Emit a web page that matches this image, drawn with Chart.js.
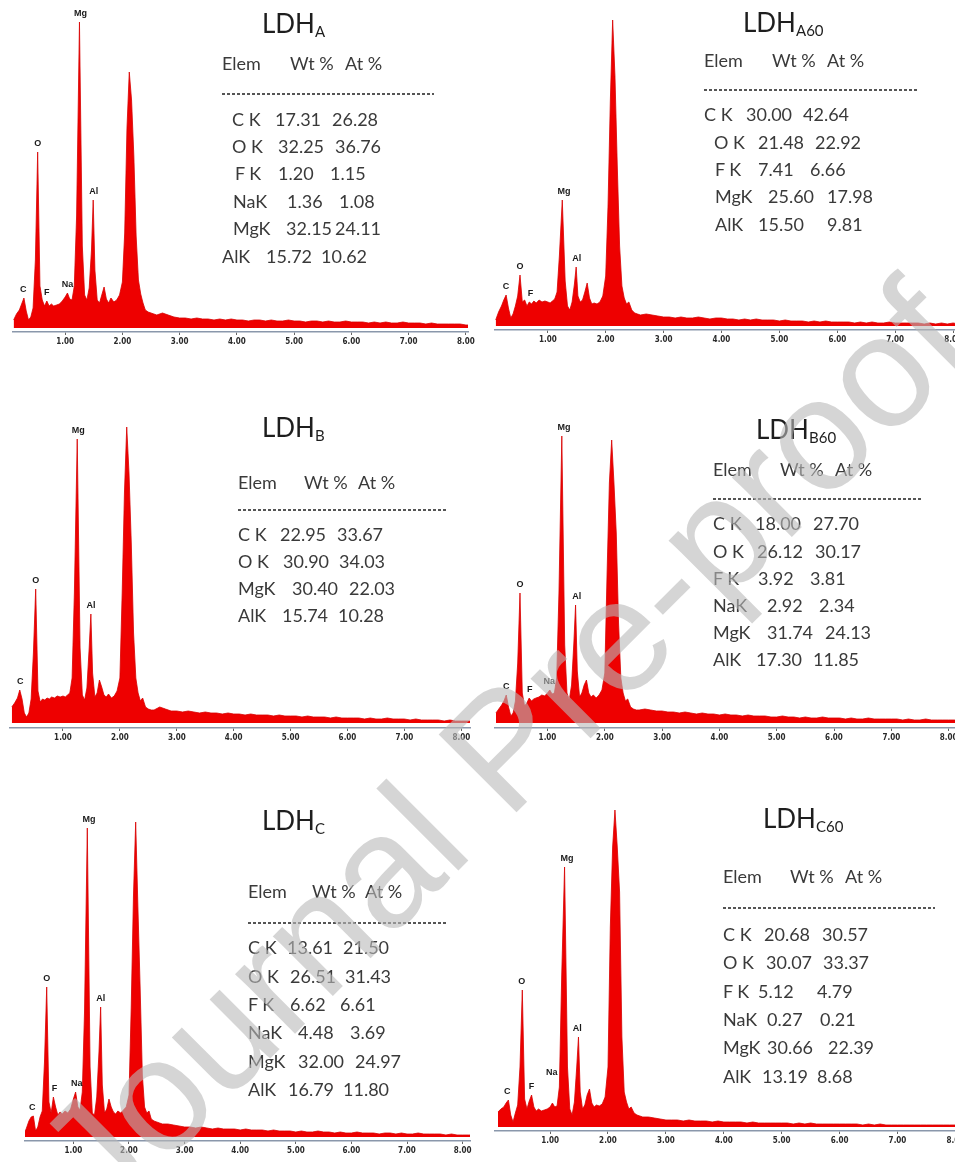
<!DOCTYPE html>
<html><head><meta charset="utf-8">
<script src="https://cdn.jsdelivr.net/npm/chart.js@4.4.1/dist/chart.umd.min.js"></script>
<style>
html,body{margin:0;padding:0;background:#fff;overflow:hidden;}
#page{position:relative;width:955px;height:1162px;overflow:hidden;background:#fff;}
canvas{position:absolute;}
.t{position:absolute;white-space:pre;font-family:Lato,'Open Sans',sans-serif;color:#3a3a3a;font-size:18px;line-height:18px;}
.ttl{position:absolute;white-space:pre;font-family:Lato,'Open Sans',sans-serif;color:#1e1e1e;font-size:26px;line-height:26px;}
.ttl span{font-size:15px;position:relative;top:4px;}
.dash{position:absolute;height:1.5px;background:repeating-linear-gradient(90deg,#555 0 3px,transparent 3px 5px);}
#wm{position:absolute;white-space:nowrap;font-family:'Liberation Sans',Arial,sans-serif;font-size:160px;line-height:1;color:rgba(185,185,185,0.6);transform:translate(-50%,-50%) rotate(-45deg);pointer-events:none;z-index:10;}
</style></head>
<body><div id="page"></div>
<script>
// Energy axis (keV), shared by all six spectra
const energyKeV = [0.10,0.15,0.20,0.24,0.28,0.32,0.36,0.40,0.44,0.48,
0.52,0.56,0.60,0.64,0.68,0.72,0.76,0.80,0.85,0.90,
0.95,1.00,1.04,1.08,1.12,1.16,1.20,1.25,1.30,1.34,
1.38,1.42,1.46,1.49,1.52,1.56,1.60,1.64,1.68,1.72,
1.76,1.80,1.85,1.90,1.95,2.00,2.04,2.08,2.12,2.16,
2.20,2.24,2.28,2.32,2.36,2.40,2.45,2.50,2.55,2.60,
2.70,2.80,2.90,3.00,
3.10,3.20,3.30,3.40,3.50,3.60,3.70,3.80,3.90,4.00,
4.10,4.20,4.30,4.40,4.50,4.60,4.70,4.80,4.90,5.00,
5.10,5.20,5.30,5.40,5.50,5.60,5.70,5.80,5.90,6.00,
6.10,6.20,6.30,6.40,6.50,6.60,6.70,6.80,6.90,7.00,
7.10,7.20,7.30,7.40,7.50,7.60,7.70,7.80,7.90,8.00,
8.10,8.20];

const tickValues = [1,2,3,4,5,6,7,8];

// Counts (arbitrary units)
const countsA = [8,14,18,24,30,17,8,11,20,68,
176,42,28,22,27,22,24,22,23,24,
27,31,35,29,28,42,112,306,82,33,
28,40,78,128,58,28,25,33,41,29,
25,30,26,28,33,46,95,200,256,228,
172,92,48,34,25,18,16,15,14,13,
15,13,11,10,
10,9,10,9,9,8,9,8,9,8, 8,7,8,8,7,8,7,7,8,7, 7,6,7,7,6,7,6,6,7,6, 6,6,5,6,5,6,5,5,6,5, 5,5,4,5,4,4,4,4,4,3, 3,3];

const countsA60 = [6,14,20,26,31,18,8,12,20,30,
51,24,26,20,24,22,25,23,26,24,
25,24,23,25,27,34,70,126,45,20,
16,24,42,59,30,24,26,34,43,28,
22,23,22,24,30,50,120,225,306,250,
160,80,40,28,22,24,16,13,12,11,
12,11,10,9,
9,8,9,8,8,9,8,7,8,8, 7,7,6,7,6,7,6,6,6,5, 6,5,5,5,4,5,4,5,4,4, 4,4,3,4,3,4,3,3,4,3, 3,3,3,3,2,3,2,3,2,3, 2,2];

const countsB = [16,20,25,33,24,10,6,10,24,70,
134,32,21,24,23,25,24,26,25,27,
26,27,26,28,30,45,130,284,75,28,
23,35,75,109,50,26,30,43,36,28,
26,29,25,27,32,45,130,230,296,250,
180,90,45,30,22,25,16,14,13,13,
16,14,12,12,
11,12,11,10,11,10,10,9,10,9, 9,8,9,8,8,8,7,8,7,7, 7,6,7,6,6,6,5,6,5,5, 5,5,4,5,4,4,5,4,4,4, 3,4,3,3,3,3,2,3,2,2, 2,2];

const countsB60 = [10,14,18,22,28,16,7,10,22,60,
130,30,17,20,25,22,24,25,26,28,
27,30,33,29,30,45,130,287,78,30,
23,38,80,118,52,26,30,38,43,30,
26,28,25,28,33,50,150,240,283,240,
190,100,45,30,22,24,16,14,13,13,
14,13,12,12,
11,11,10,11,10,9,10,9,9,8, 9,8,8,7,8,7,7,7,6,6, 7,6,6,5,6,5,5,6,5,5, 5,4,5,4,4,5,4,4,4,4, 4,3,4,3,3,4,3,3,3,3, 3,3];

const countsC = [2,8,16,20,21,6,10,20,26,75,
150,35,24,40,30,22,25,23,26,24,
28,38,45,30,27,45,125,309,70,24,
22,40,85,130,52,24,28,38,30,25,
23,26,24,27,30,42,130,240,315,230,
150,62,30,24,26,18,16,15,14,13,
13,12,11,10,
10,9,10,9,8,9,8,8,8,7, 8,7,7,7,6,7,6,6,6,5, 6,5,5,6,5,5,4,5,4,4, 5,4,4,4,3,4,4,3,4,3, 3,4,3,3,3,3,2,3,2,2, 2,2];

const countsC60 = [15,18,20,24,27,12,5,14,22,60,
137,28,18,26,32,20,16,18,16,17,
18,20,24,20,21,40,150,260,60,18,
12,25,60,90,35,18,22,32,38,24,
20,22,21,23,30,60,200,280,317,280,
235,90,35,25,18,20,14,12,11,10,
10,9,8,7,
7,7,6,7,6,6,6,5,6,5, 5,5,5,4,5,4,4,4,4,4, 4,3,4,3,4,3,3,3,3,3, 3,3,3,2,3,2,3,2,2,2, 2,2,2,2,2,2,2,2,2,2, 2,2];

// Peak labels: [element, energy keV]
const peaksA   = [['C',0.27],['O',0.52],['F',0.68],['Na',1.04],['Mg',1.27],['Al',1.50]];
const peaksA60 = [['C',0.28],['O',0.52],['F',0.70],['Mg',1.28],['Al',1.50]];
const peaksB   = [['C',0.25],['O',0.52],['Mg',1.27],['Al',1.49]];
const peaksB60 = [['C',0.28],['O',0.52],['F',0.69],['Na',1.03],['Mg',1.29],['Al',1.51]];
const peaksC   = [['C',0.26],['O',0.52],['F',0.66],['Na',1.06],['Mg',1.28],['Al',1.49]];
const peaksC60 = [['C',0.26],['O',0.51],['F',0.68],['Na',1.03],['Mg',1.29],['Al',1.47]];

// Composition tables
const headerCols = ['Elem','Wt %','At %'];
const elemA = ['C K','O K','F K','NaK','MgK','AlK'];
const wtA   = ['17.31','32.25','1.20','1.36','32.15','15.72'];
const atA   = ['26.28','36.76','1.15','1.08','24.11','10.62'];
const elemA60 = ['C K','O K','F K','MgK','AlK'];
const wtA60   = ['30.00','21.48','7.41','25.60','15.50'];
const atA60   = ['42.64','22.92','6.66','17.98','9.81'];
const elemB = ['C K','O K','MgK','AlK'];
const wtB   = ['22.95','30.90','30.40','15.74'];
const atB   = ['33.67','34.03','22.03','10.28'];
const elemB60 = ['C K','O K','F K','NaK','MgK','AlK'];
const wtB60   = ['18.00','26.12','3.92','2.92','31.74','17.30'];
const atB60   = ['27.70','30.17','3.81','2.34','24.13','11.85'];
const elemC = ['C K','O K','F K','NaK','MgK','AlK'];
const wtC   = ['13.61','26.51','6.62','4.48','32.00','16.79'];
const atC   = ['21.50','31.43','6.61','3.69','24.97','11.80'];
const elemC60 = ['C K','O K','F K','NaK','MgK','AlK'];
const wtC60   = ['20.68','30.07','5.12','0.27','30.66','13.19'];
const atC60   = ['30.57','33.37','4.79','0.21','22.39','8.68'];

const titleSubs = ['A','A60','B','B60','C','C60'];

// ---------- layout (pixel geometry) ----------
const panels = [
 {counts:countsA, peaks:peaksA, elem:elemA, wt:wtA, at:atA,
  x0:7.9, k:57.25, axisL:13, axisR:468, axisY:332, baseY:328, topY:6,
  title:[262,24], head:[64,[222,290,345]], dash:[93,222,434],
  rowY:[120,147,174,202,229,257], rowX:[[232,275,332],[232,278,335],[235,278,330],[233,287,339],[233,286,335],[222,266,321]]},
 {counts:countsA60, peaks:peaksA60, elem:elemA60, wt:wtA60, at:atA60,
  x0:489.9, k:57.9, axisL:495, axisR:968, axisY:330, baseY:326, topY:6,
  title:[743,23], head:[61,[704,772,827]], dash:[89,704,918],
  rowY:[115,143,170,197,225], rowX:[[704,746,803],[714,758,815],[715,758,810],[715,768,827],[715,758,827]]},
 {counts:countsB, peaks:peaksB, elem:elemB, wt:wtB, at:atB,
  x0:6.1, k:56.9, axisL:10, axisR:470, axisY:728, baseY:723, topY:406,
  title:[262,428], head:[483,[238,304,358]], dash:[509,238,447],
  rowY:[535,562,589,616], rowX:[[238,280,337],[238,283,339],[238,292,349],[238,282,338]]},
 {counts:countsB60, peaks:peaksB60, elem:elemB60, wt:wtB60, at:atB60,
  x0:490.2, k:57.3, axisL:495, axisR:968, axisY:728, baseY:723, topY:406,
  title:[756,430], head:[470,[713,780,835]], dash:[498,713,923],
  rowY:[524,552,579,606,633,660], rowX:[[713,755,813],[713,757,815],[713,758,810],[713,767,819],[713,767,825],[713,756,813]]},
 {counts:countsC, peaks:peaksC, elem:elemC, wt:wtC, at:atC,
  x0:17.8, k:55.6, axisL:25, axisR:470, axisY:1141, baseY:1137, topY:800,
  title:[262,821], head:[892,[248,312,365]], dash:[922,248,448],
  rowY:[948,977,1005,1033,1062,1090], rowX:[[248,287,343],[248,290,345],[248,290,340],[248,298,350],[248,298,355],[248,288,343]]},
 {counts:countsC60, peaks:peaksC60, elem:elemC60, wt:wtC60, at:atC60, lift:{Na:22},
  x0:492.2, k:57.9, axisL:495, axisR:968, axisY:1131, baseY:1127, topY:800,
  title:[763,819], head:[877,[723,790,845]], dash:[907,723,935],
  rowY:[935,963,992,1020,1048,1077], rowX:[[723,764,822],[723,766,823],[723,758,817],[723,767,820],[723,767,828],[723,762,817]]}
];

const page = document.getElementById('page');
const PAD = 24, AXH = 18;

function addText(cls, x, yc, str, size){
  const d = document.createElement('div');
  d.className = cls;
  d.style.left = x + 'px';
  d.style.top = (yc - size*0.53) + 'px';
  d.textContent = str;
  page.appendChild(d);
  return d;
}

function labelPlugin(L){
  return {
    id:'peakLabels',
    afterDatasetsDraw(chart){
      const ctx = chart.ctx, xs = chart.scales.x, ys = chart.scales.y;
      ctx.save();
      ctx.font = 'bold 9px "Liberation Sans", Arial, sans-serif';
      ctx.fillStyle = '#1a1a1a';
      ctx.textAlign = 'center';
      ctx.textBaseline = 'middle';
      L.peaks.forEach(([name, e]) => {
        let m = 0;
        energyKeV.forEach((E, i) => { if (Math.abs(E - e) <= 0.051) m = Math.max(m, L.counts[i]); });
        const lift = (L.lift && L.lift[name]) || 0;
        ctx.fillText(name, xs.getPixelForValue(e), ys.getPixelForValue(m) - 8 - lift);
      });
      ctx.restore();
    }
  };
}

panels.forEach((L, pi) => {
  const cv = document.createElement('canvas');
  const w = L.axisR - L.axisL + 2*PAD;
  const h = L.axisY - L.topY + AXH;
  cv.width = w; cv.height = h;
  cv.style.left = (L.axisL - PAD) + 'px';
  cv.style.top = L.topY + 'px';
  cv.style.width = w + 'px'; cv.style.height = h + 'px';
  page.appendChild(cv);

  const xmin = (L.axisL - L.x0) / L.k;
  const xmax = (L.axisR - L.x0) / L.k;
  const ymin = -(L.axisY - L.baseY);
  const ymax = L.baseY - L.topY;

  new Chart(cv, {
    type: 'line',
    data: { datasets: [{
      data: energyKeV.map((e, i) => ({x: e, y: L.counts[i]})),
      borderColor: '#d80000', backgroundColor: '#ee0000',
      borderWidth: 0.8, pointRadius: 0, fill: 'origin', tension: 0
    }]},
    options: {
      responsive: false, animation: false, devicePixelRatio: 1, events: [],
      layout: { padding: { left: PAD, right: PAD, top: 0, bottom: 0 } },
      plugins: { legend: { display: false }, tooltip: { enabled: false } },
      scales: {
        x: {
          type: 'linear', min: xmin, max: xmax,
          border: { display: true, color: '#8a97ab', width: 1.5 },
          grid: { display: true, drawOnChartArea: false, drawTicks: true, tickLength: 3, color: '#666' },
          afterBuildTicks: s => { s.ticks = tickValues.filter(v => v >= s.min && v <= s.max).map(v => ({value: v})); },
          afterFit: s => { s.height = AXH; },
          ticks: {
            autoSkip: false, maxRotation: 0, padding: 2, color: '#2a2a2a',
            font: { family: "'Liberation Sans Narrow','DejaVu Sans Condensed','Arial Narrow',sans-serif", size: 8, weight: 'bold' },
            callback: v => Number(v).toFixed(2)
          }
        },
        y: { display: false, min: ymin, max: ymax }
      }
    },
    plugins: [labelPlugin(L)]
  });

  const t = addText('ttl', L.title[0], L.title[1], 'LDH', 26);
  const sb = document.createElement('span');
  sb.textContent = titleSubs[pi];
  t.appendChild(sb);
  headerCols.forEach((c, j) => addText('t', L.head[1][j], L.head[0], c, 18));
  const d = document.createElement('div');
  d.className = 'dash';
  d.style.left = L.dash[1] + 'px';
  d.style.width = (L.dash[2] - L.dash[1]) + 'px';
  d.style.top = L.dash[0] + 'px';
  page.appendChild(d);
  L.elem.forEach((el, r) => {
    addText('t', L.rowX[r][0], L.rowY[r], el, 18);
    addText('t', L.rowX[r][1], L.rowY[r], L.wt[r], 18);
    addText('t', L.rowX[r][2], L.rowY[r], L.at[r], 18);
  });
});

const wm = document.createElement('div');
wm.id = 'wm';
wm.textContent = 'Journal Pre-proof';
wm.style.left = '503px';
wm.style.top = '748px';
page.appendChild(wm);
</script>
</body></html>
